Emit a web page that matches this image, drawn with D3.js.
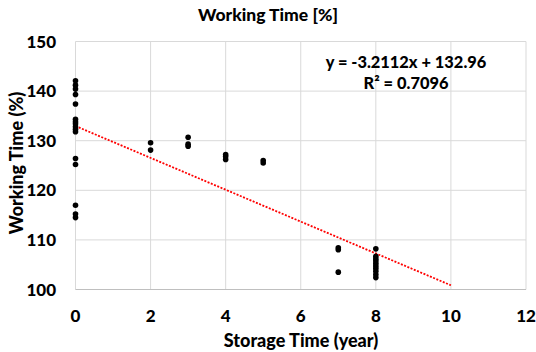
<!DOCTYPE html>
<html>
<head>
<meta charset="utf-8">
<script src="https://cdn.jsdelivr.net/npm/d3@7"></script>
<style>
  body { margin: 0; background: #fff; }
  text { font-family: Lato, "Open Sans", sans-serif; font-weight: 900; fill: #000; }
</style>
</head>
<body>
<div id="chart"></div>
<script>
// storage time (years) and working time (%)
const storageYears = [0,0,0,0,0,0,0,0,0,0,0,0,0,0,0,0,
  2,2, 3,3,3, 4,4,4, 5,5, 7,7,7,
  8,8,8,8,8,8,8,8,8,8];
const workingTime = [142.1,141.2,140.4,139.3,137.4,134.3,133.8,133.4,132.8,132.3,131.8,126.4,125.2,117.0,115.2,114.5,
  129.6,128.1, 130.7,129.3,128.9, 127.2,126.8,126.2, 126.0,125.5, 108.4,108.0,103.5,
  108.2,106.7,106.2,105.8,105.3,104.8,104.3,103.7,103.0,102.4];
const xTicks = [0, 2, 4, 6, 8, 10, 12];
const yTicks = [100, 110, 120, 130, 140, 150];
const slope = -3.2112, intercept = 132.96, rSquared = 0.7096;
const trendRange = [0, 10];

const width = 536, height = 352;

const svg = d3.select('#chart').append('svg')
  .attr('width', width)
  .attr('height', height);

const x = d3.scaleLinear().domain([0, 12]).range([75.5, 526]);
const y = d3.scaleLinear().domain([100, 150]).range([289.5, 41.5]);

// gridlines
svg.append('g').selectAll('line')
  .data(xTicks).enter().append('line')
  .attr('x1', d => x(d)).attr('x2', d => x(d))
  .attr('y1', y(150)).attr('y2', y(100))
  .attr('stroke', '#d9d9d9').attr('stroke-width', 1);
svg.append('g').selectAll('line')
  .data(yTicks).enter().append('line')
  .attr('x1', x(0)).attr('x2', x(12))
  .attr('y1', d => y(d)).attr('y2', d => y(d))
  .attr('stroke', d => d === 100 ? '#bfbfbf' : '#d9d9d9').attr('stroke-width', 1);

// tick labels
svg.append('g').selectAll('text')
  .data(yTicks).enter().append('text')
  .attr('x', 56).attr('y', d => y(d))
  .attr('dy', '0.36em')
  .attr('text-anchor', 'end')
  .style('font-size', '17px')
  .text(d => d);
svg.append('g').selectAll('text')
  .data(xTicks).enter().append('text')
  .attr('x', d => x(d)).attr('y', 316)
  .attr('dy', '0.36em')
  .attr('text-anchor', 'middle')
  .style('font-size', '17px')
  .text(d => d);

// trendline
svg.append('line')
  .attr('x1', x(trendRange[0])).attr('y1', y(intercept + slope * trendRange[0]))
  .attr('x2', x(trendRange[1])).attr('y2', y(intercept + slope * trendRange[1]))
  .attr('stroke', '#ff0000')
  .attr('stroke-width', 1.8)
  .attr('stroke-dasharray', '2,1.5');

// points
svg.append('g').selectAll('circle')
  .data(storageYears.map((d, i) => [d, workingTime[i]]))
  .enter().append('circle')
  .attr('cx', d => x(d[0]))
  .attr('cy', d => y(d[1]))
  .attr('r', 2.8)
  .attr('fill', '#000');

// titles
svg.append('text')
  .attr('x', 268).attr('y', 15).attr('dy', '0.36em')
  .attr('text-anchor', 'middle')
  .style('font-size', '17.5px')
  .text('Working Time [%]');
svg.append('text')
  .attr('x', 301).attr('y', 341).attr('dy', '0.36em')
  .attr('text-anchor', 'middle')
  .style('font-size', '18px')
  .text('Storage Time (year)');
svg.append('text')
  .attr('transform', 'translate(17,163) rotate(-90)')
  .attr('dy', '0.36em')
  .attr('text-anchor', 'middle')
  .style('font-size', '18px')
  .text('Working Time (%)');

// equation
svg.append('text')
  .attr('x', 406).attr('y', 62).attr('dy', '0.36em')
  .attr('text-anchor', 'middle')
  .style('font-size', '16.4px')
  .text(`y = ${slope}x + ${intercept}`);
svg.append('text')
  .attr('x', 406).attr('y', 83).attr('dy', '0.36em')
  .attr('text-anchor', 'middle')
  .style('font-size', '16.4px')
  .text(`R² = ${rSquared}`);
</script>
</body>
</html>
